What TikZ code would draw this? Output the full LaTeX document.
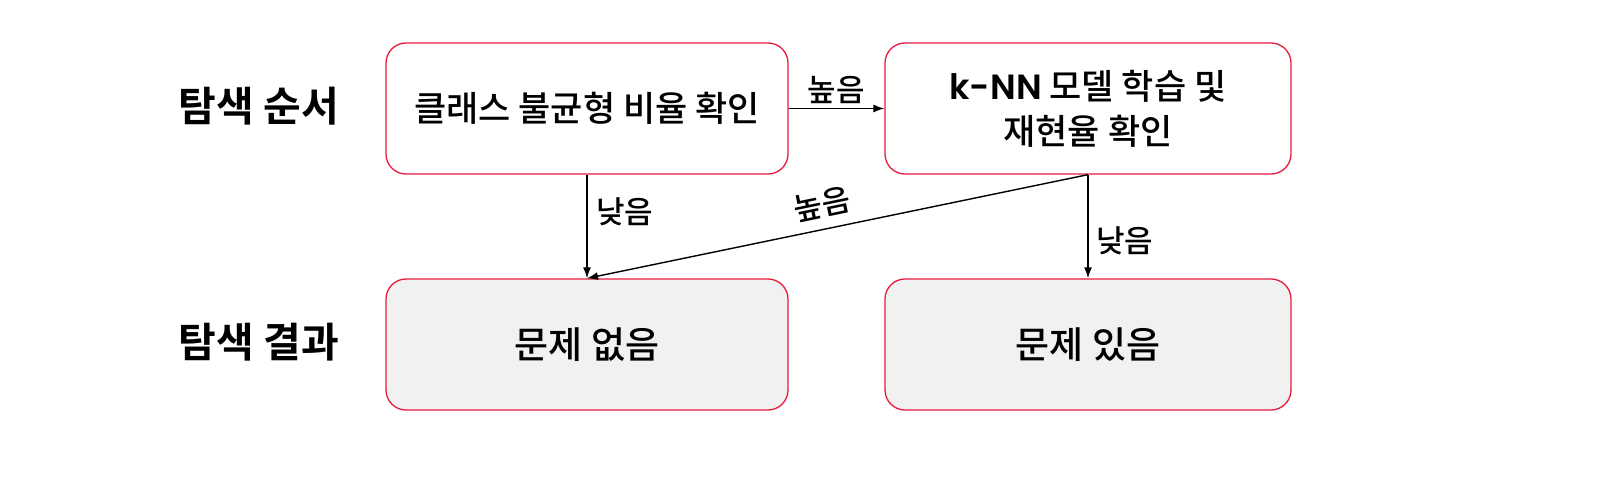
\documentclass[tikz,border=0pt]{standalone}
\usepackage{fontspec}
\IfFontExistsTF{Noto Sans CJK KR Medium}
    {\setmainfont{Noto Sans CJK KR Medium}[BoldFont={Noto Sans CJK KR Bold}]}
    {\setmainfont{Noto Sans CJK KR}}
\IfFontExistsTF{Poppins SemiBold}
    {\newfontfamily\latinfont{Poppins SemiBold}}
    {\newfontfamily\latinfont{Poppins}[UprightFont=*, BoldFont=* Bold]}
\usetikzlibrary{positioning, arrows.meta}
\definecolor{boxred}{RGB}{232,28,62}
\definecolor{boxgray}{RGB}{241,241,241}

\begin{document}
\begin{tikzpicture}[>={Latex[length=11pt, width=8pt]}, x=1pt, y=-1pt,
    stepbox/.style={draw=boxred, line width=1.3pt, rounded corners=20pt,
        minimum width=402pt, minimum height=131pt, align=center,
        font=\fontsize{35}{45}\selectfont},
    resultbox/.style={stepbox, fill=boxgray, font=\fontsize{37}{45}\selectfont},
    rowlabel/.style={font=\fontsize{41}{48}\selectfont\bfseries},
    edgelabel/.style={font=\fontsize{31}{34}\selectfont},
    link/.style={->, line width=1.4pt}]

    \useasboundingbox (0,0) rectangle (1609,481);

    % 행 제목
    \node[rowlabel] (order) at (259,106) {탐색 순서};
    \node[rowlabel] (result) at (259,342) {탐색 결과};

    % 탐색 순서
    \node[stepbox] (ratio) at (587,108.5) {클래스 불균형 비율 확인};
    \node[stepbox, minimum width=406pt] (knn) at (1088,108.5) {{\latinfont k-NN} 모델 학습 및\\재현율 확인};

    % 탐색 결과
    \node[resultbox] (ok) at (587,344.5) {문제 없음};
    \node[resultbox, minimum width=406pt] (bad) at (1088,344.5) {문제 있음};

    % 화살표
    \draw[link] (ratio) -- node[above=1pt, edgelabel] {높음} (knn);
    \draw[link] (ratio) -- node[pos=0.36, right=5pt, edgelabel] {낮음} (ok);
    \draw[link] (knn.south) -- node[pos=0.52, above=7pt, sloped, edgelabel] {높음} (ok.north);
    \draw[link] (knn) -- node[pos=0.64, right=4pt, edgelabel] {낮음} (bad);
\end{tikzpicture}
\end{document}
